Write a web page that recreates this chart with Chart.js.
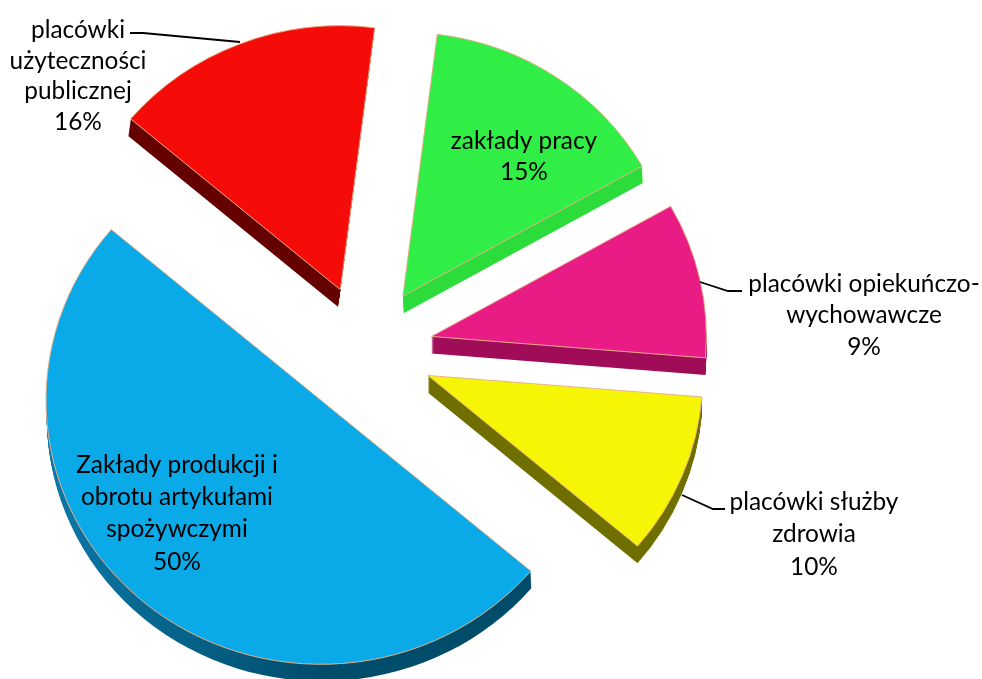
<!DOCTYPE html>
<html><head><meta charset="utf-8">
<style>html,body{margin:0;padding:0;background:#fff}canvas{display:block}</style>
<script src="https://cdn.jsdelivr.net/npm/chart.js@4"></script>
</head><body><canvas id="c" width="982" height="679"></canvas>
<script>
const categories = ['Zakłady produkcji i obrotu artykułami spożywczymi','placówki użyteczności publicznej','zakłady pracy','placówki opiekuńczo-wychowawcze','placówki służby zdrowia'];
const values = [50,15.8,14.8,9.5,9.9];
const percentLabels = ['50%','16%','15%','9%','10%'];
const topColors = ['#0aa9e8','#f50c08','#31ee47','#e91c85','#f5f505'];
const sideStart = ['#0b78a8','#640000','#2bdc3b','#a00c58','#6f6f00'];
const sideEnd = ['#004c6b','#640000','#2bdc3b','#a00c58','#6f6f00'];
const sideShiftX = [0.8,-2.4,0.8,0,0];
const edgeColor = '#e8b08a';
const labelLines = [
 ['Zakłady produkcji i','obrotu artykułami','spożywczymi'],
 ['placówki','użyteczności','publicznej'],
 ['zakłady pracy'],
 ['placówki opiekuńczo-','wychowawcze'],
 ['placówki służby','zdrowia']
];
const labelAnchors = [[177,465,32.3],[78,30,30.8],[524,141,31],[864,284,31.5],[814,502,32.5]];
const leaders = [null,[[130,33],[143,33],[240,42]],null,[[742,291],[728,291],[700,282]],[[725,509],[713,509],[682,495]]];

const squash = 0.96, depth = 17, explode = 68, pieRadius = 275;

const pie3d = {
 id:'pie3d',
 afterDatasetsUpdate(chart){
  chart.getDatasetMeta(0).data.forEach(a=>{
   const m=(a.startAngle+a.endAngle)/2;
   a.x+=Math.cos(m)*explode; a.y+=Math.sin(m)*explode;
  });
 },
 beforeDatasetsDraw(chart){
  const ctx=chart.ctx, arcs=chart.getDatasetMeta(0).data, cy=(chart.chartArea.top+chart.chartArea.bottom)/2;
  ctx.save();
  ctx.translate(0,cy); ctx.scale(1,squash); ctx.translate(0,-cy);
  arcs.forEach((a,i)=>{
   const g=ctx.createLinearGradient(a.x-a.outerRadius,0,a.x,0);
   g.addColorStop(0,sideStart[i]); g.addColorStop(1,sideEnd[i]);
   ctx.fillStyle=g;
   for(let d=depth;d>=1;d--){
    const oy=d/squash, ox=sideShiftX[i]*d/depth;
    ctx.beginPath();
    ctx.moveTo(a.x+ox,a.y+oy);
    ctx.arc(a.x+ox,a.y+oy,a.outerRadius,a.startAngle,a.endAngle);
    ctx.closePath(); ctx.fill();
   }
  });
 },
 afterDatasetsDraw(chart){
  const ctx=chart.ctx;
  ctx.restore();
  ctx.fillStyle='#000'; ctx.strokeStyle='#000'; ctx.lineWidth=1.8;
  leaders.forEach(l=>{ if(!l) return;
   ctx.beginPath(); l.forEach((p,i)=>i?ctx.lineTo(p[0],p[1]):ctx.moveTo(p[0],p[1])); ctx.stroke();
  });
  ctx.font='24.4px Lato'; ctx.textAlign='center'; ctx.textBaseline='middle';
  labelLines.forEach((lines,i)=>{
   const [x,y,h]=labelAnchors[i];
   [...lines,percentLabels[i]].forEach((t,k)=>ctx.fillText(t,x,y+k*h));
  });
 }
};

new Chart(document.getElementById('c'),{
 type:'pie',
 data:{labels:categories,datasets:[{data:values,backgroundColor:topColors,borderColor:edgeColor,borderWidth:1,clip:false,radius:pieRadius}]},
 options:{
  responsive:false,animation:false,events:[],rotation:130.3,
  layout:{padding:{left:0,right:252,top:22,bottom:0}},
  plugins:{legend:{display:false},tooltip:{enabled:false}}
 },
 plugins:[pie3d]
});
</script></body></html>
